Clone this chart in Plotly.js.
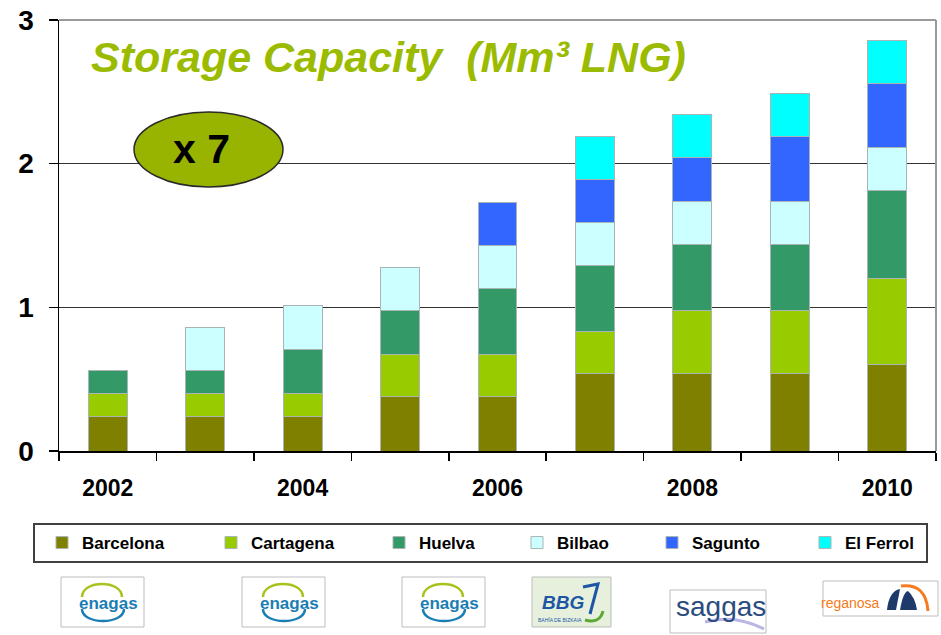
<!DOCTYPE html>
<html>
<head>
<meta charset="utf-8">
<script src="https://cdn.plot.ly/plotly-3.0.1.min.js"></script>
<style>
body { margin: 0; background: #fff; }
#chart { width: 941px; height: 635px; }
</style>
</head>
<body>
<div id="chart"></div>
<script>
// capacité de stockage (Mm3 GNL) par terminal et par année
let annees = [2002, 2003, 2004, 2005, 2006, 2007, 2008, 2009, 2010];
let barcelona = [0.24, 0.24, 0.24, 0.38, 0.38, 0.54, 0.54, 0.54, 0.60];
let cartagena = [0.16, 0.16, 0.16, 0.29, 0.29, 0.29, 0.44, 0.44, 0.60];
let huelva = [0.16, 0.16, 0.31, 0.31, 0.46, 0.46, 0.46, 0.46, 0.61];
let bilbao = [null, 0.30, 0.30, 0.30, 0.30, 0.30, 0.30, 0.30, 0.30];
let sagunto = [null, null, null, null, 0.30, 0.30, 0.30, 0.45, 0.45];
let ferrol = [null, null, null, null, null, 0.30, 0.30, 0.30, 0.30];
let noms = ["Barcelona", "Cartagena", "Huelva", "Bilbao", "Sagunto", "El Ferrol"];
let anneesAffichees = [2002, 2004, 2006, 2008, 2010];

// styles
let couleurs = ["#808000", "#99CC00", "#339966", "#CCFFFF", "#3366FF", "#00FFFF"];
let largeursLegende = [117, 116, 86, 83, 101, 76];
let police = "Liberation Sans, Arial, sans-serif";

// pixels -> coordonnées papier (zone de tracé 59..936 x 20..451)
function px(x) { return (x - 59) / 877; }
function py(y) { return (451 - y) / 431; }
function P(x, y) { return px(x) + "," + py(y); }

// demi-ellipse (haut ou bas) en courbe de Bézier
function demiEllipse(cx, cy, rx, ry, haut) {
    let k = haut ? -4 / 3 * ry : 4 / 3 * ry;
    return "M" + P(cx - rx, cy) + " C" + P(cx - rx, cy + k) + " " + P(cx + rx, cy + k) + " " + P(cx + rx, cy);
}

let series = [barcelona, cartagena, huelva, bilbao, sagunto, ferrol];
let data = series.map((vals, i) => ({
    type: "bar",
    x: annees,
    y: vals,
    name: noms[i],
    marker: { color: couleurs[i], line: { color: "#a9b4b4", width: 1 } },
    legendwidth: largeursLegende[i],
    hoverinfo: "skip"
}));

let shapes = [];
let annotations = [];

// bord haut et droit gris
shapes.push({ type: "line", xref: "paper", yref: "paper", x0: 0, x1: 1, y0: 1, y1: 1, line: { color: "#9a9a9a", width: 2 }, layer: "above" });
shapes.push({ type: "line", xref: "paper", yref: "paper", x0: 1, x1: 1, y0: 0, y1: 1, line: { color: "#9a9a9a", width: 2 }, layer: "above" });

// textes posés au pixel près
function texte(x, y, t, font) {
    annotations.push({ xref: "paper", yref: "paper", x: px(x), y: py(y), xanchor: "center", yanchor: "middle",
        text: t, showarrow: false, font: Object.assign({ family: police }, font) });
}

// ellipse "x 7"
shapes.push({ type: "circle", xref: "paper", yref: "paper", x0: px(134), x1: px(283), y0: py(187), y1: py(112),
    fillcolor: "#99B400", line: { color: "#2a2a2a", width: 1.5 }, layer: "above" });
texte(201, 149, "x 7", { size: 41, weight: "bold", color: "#000" });

// logos (approximation)
function cadre(x0, y0, x1, y1, fond) {
    shapes.push({ type: "rect", xref: "paper", yref: "paper", x0: px(x0), x1: px(x1), y0: py(y1), y1: py(y0),
        fillcolor: fond, line: { color: "#bdbdbd", width: 1 } });
}
function trait(path, couleur, epaisseur) {
    shapes.push({ type: "path", xref: "paper", yref: "paper", path: path, line: { color: couleur, width: epaisseur } });
}
function plein(path, couleur) {
    shapes.push({ type: "path", xref: "paper", yref: "paper", path: path, fillcolor: couleur, line: { width: 0 } });
}

[61, 242, 402].forEach(x0 => {
    cadre(x0, 577, x0 + 83, 627, "#fff");
    trait(demiEllipse(x0 + 41, 597, 20, 13, true), "#a8c21e", 2.5);
    trait(demiEllipse(x0 + 42, 609, 21, 12, false), "#1b7db5", 2.5);
    texte(x0 + 47, 603, "enagas", { size: 17, weight: "bold", color: "#1b7db5" });
});

cadre(532, 577, 611, 627, "#e6f0dc");
texte(563, 602, "BBG", { size: 19, weight: "bold", style: "italic", color: "#1e56a6" });
trait("M" + P(583, 587) + " L" + P(598, 584) + " L" + P(590, 614), "#1e56a6", 3);
trait("M" + P(585, 620) + " Q" + P(600, 624) + " " + P(603, 611), "#5aa832", 3);
texte(560, 620, "BAHÍA DE BIZKAIA", { size: 5, color: "#1e56a6" });

cadre(670, 590, 766, 633, "#fff");
texte(721, 606, "saggas", { size: 28, color: "#2b4c7e" });
trait("M" + P(705, 622) + " Q" + P(735, 614) + " " + P(764, 629), "#b9b6e6", 3);

cadre(823, 581, 938, 616, "#fff");
texte(850, 603, "reganosa", { size: 14, color: "#f47b20" });
plein("M" + P(887, 610) + " Q" + P(889, 591) + " " + P(900, 589) + " L" + P(896, 610) + " Z", "#1d3a6b");
plein("M" + P(900, 610) + " Q" + P(903, 592) + " " + P(908, 591) + " Q" + P(915, 597) + " " + P(917, 610) + " Z", "#1d3a6b");
trait("M" + P(901, 586) + " Q" + P(926, 583) + " " + P(928, 611), "#f47b20", 3);

let layout = {
    width: 941,
    height: 635,
    margin: { l: 59, r: 5, t: 20, b: 184 },
    paper_bgcolor: "#fff",
    plot_bgcolor: "#fff",
    barmode: "stack",
    bargap: 0.6,
    font: { family: police, color: "#000" },
    title: {
        text: "Storage Capacity &nbsp;(Mm³ LNG)",
        xref: "paper", x: px(91), xanchor: "left",
        yref: "container", y: 1 - 57 / 635, yanchor: "middle",
        font: { family: police, size: 43, weight: "bold", style: "italic", color: "#9BBB00" }
    },
    xaxis: {
        range: [2001.5, 2010.5],
        tickmode: "linear", tick0: 2002, dtick: 2,
        ticks: "", showgrid: false, zeroline: false,
        showline: true, linecolor: "#000", linewidth: 1.5,
        tickfont: { family: police, size: 23, weight: "bold", color: "#000" },
        ticklabelstandoff: 16,
        minor: { tickmode: "linear", tick0: 2001.5, dtick: 1, ticks: "outside", ticklen: 8, tickwidth: 1.5, tickcolor: "#000", showgrid: false }
    },
    yaxis: {
        range: [0, 3],
        tickmode: "linear", tick0: 0, dtick: 1,
        ticks: "outside", ticklen: 9, tickwidth: 1.5, tickcolor: "#000",
        showline: true, linecolor: "#000", linewidth: 1.5,
        showgrid: true, gridcolor: "#333", gridwidth: 1.5, zeroline: false,
        tickfont: { family: police, size: 28, weight: "bold", color: "#000" },
        ticklabelstandoff: 9
    },
    legend: {
        orientation: "h",
        x: px(33), xanchor: "left",
        y: py(523), yanchor: "top",
        bordercolor: "#404040", borderwidth: 2,
        bgcolor: "#fff",
        indentation: 7,
        traceorder: "normal",
        font: { family: police, size: 17, weight: "bold", color: "#000" }
    },
    shapes: shapes,
    annotations: annotations
};

Plotly.newPlot("chart", data, layout, { staticPlot: true, displayModeBar: false });
</script>
</body>
</html>
